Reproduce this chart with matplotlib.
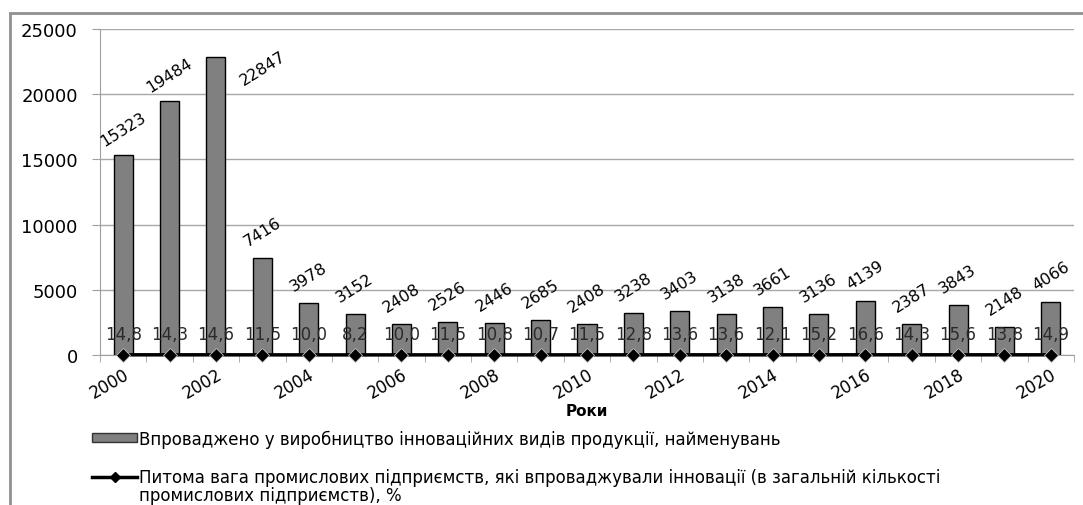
import numpy as np
import matplotlib
matplotlib.use('Agg')
import matplotlib.pyplot as plt
from matplotlib.lines import Line2D
from matplotlib.patches import Patch, Rectangle
import matplotlib.ticker as ticker

years = list(range(2000, 2021))
products = [15323, 19484, 22847, 7416, 3978, 3152, 2408, 2526, 2446, 2685, 2408,
            3238, 3403, 3138, 3661, 3136, 4139, 2387, 3843, 2148, 4066]
share = [14.8, 14.3, 14.6, 11.5, 10.0, 8.2, 10.0, 11.5, 10.8, 10.7, 11.5,
         12.8, 13.6, 13.6, 12.1, 15.2, 16.6, 14.3, 15.6, 13.8, 14.9]

label_bar = 'Впроваджено у виробництво інноваційних видів продукції, найменувань'
label_line = 'Питома вага промислових підприємств, які впроваджували інновації (в загальній кількості'
label_line_cont = 'промислових підприємств), %'

plt.rcParams['font.family'] = ['DejaVu Sans']

W, H = 1083, 506
fig = plt.figure(figsize=(W / 100, H / 100), dpi=100)
ax = fig.add_axes([100 / W, 1 - 356 / H, 974 / W, 326 / H])

x = np.arange(len(years))
ax.bar(x, products, width=0.41, color='#808080', edgecolor='black', linewidth=1, zorder=2)
ax.plot(x, share, color='black', linewidth=2.5, marker='D', markersize=7,
        markerfacecolor='black', markeredgecolor='#c0c0c0', markeredgewidth=0.6,
        zorder=3, clip_on=False)

# value labels over the bars (the tallest one is pushed aside)
for i, v in enumerate(products):
    off = (34, -8) if v == max(products) else (0, 19)
    ax.annotate(str(v), (x[i], v), xytext=off, textcoords='offset points',
                ha='center', va='center', rotation=32, rotation_mode='anchor',
                fontsize=11.5, zorder=4)

# share values above the line
for i, v in enumerate(share):
    ax.annotate(f'{v:.1f}'.replace('.', ','), (x[i], v), xytext=(0, 15),
                textcoords='offset points', ha='center', va='center',
                fontsize=12, color='#2a2a2a', zorder=4)

ax.set_xlim(-0.5, len(years) - 0.5)
ax.set_ylim(0, 25000)
ax.yaxis.set_major_locator(ticker.MultipleLocator(5000))
ax.grid(axis='y', color='#a8a8a8', linewidth=1, zorder=0)
ax.set_axisbelow(True)

ax.set_xticks(x[::2])
ax.set_xticklabels([str(y) for y in years[::2]], rotation=30, ha='right',
                   rotation_mode='anchor', fontsize=12)
ax.set_xticks(np.arange(-0.5, len(years)), minor=True)
ax.tick_params(axis='x', which='major', length=0, pad=7)
ax.tick_params(axis='x', which='minor', length=5, color='#a0a0a0', direction='out')
ax.tick_params(axis='y', length=6, color='#a0a0a0', labelsize=13, pad=10)

for s in ['top', 'right']:
    ax.spines[s].set_visible(False)
ax.spines['left'].set_color('#a0a0a0')
ax.spines['bottom'].set_color('#a0a0a0')

ax.set_xlabel('Роки', fontsize=11, fontweight='bold', va='top')
ax.xaxis.set_label_coords(0.5, -0.148)

handles = [Patch(facecolor='#808080', edgecolor='#333333', linewidth=1),
           Line2D([], [], color='black', linewidth=2.5, marker='D', markersize=5,
                  markerfacecolor='black')]
leg = fig.legend(handles, [label_bar, label_line], loc='upper left',
                 bbox_to_anchor=(84 / W, 1 - 422 / H), frameon=False,
                 prop={'size': 12}, handlelength=2.7, handleheight=0.45,
                 handletextpad=0.1, labelspacing=1.25, borderpad=0)

# wrapped tail of the second legend label, placed under its first line
fig.canvas.draw()
bb = leg.get_texts()[1].get_window_extent().transformed(fig.transFigure.inverted())
fig.text(bb.x0, (bb.y0 + bb.y1) / 2 - 18 / H, label_line_cont, fontsize=12,
         va='center', ha='left')

# chart area border
fig.patches.append(Rectangle((10 / W, -0.1), 1.2, 1 - 14 / H + 0.1,
                             transform=fig.transFigure, fill=False,
                             edgecolor='#909090', linewidth=2))

fig.savefig('out.png', dpi=100)
